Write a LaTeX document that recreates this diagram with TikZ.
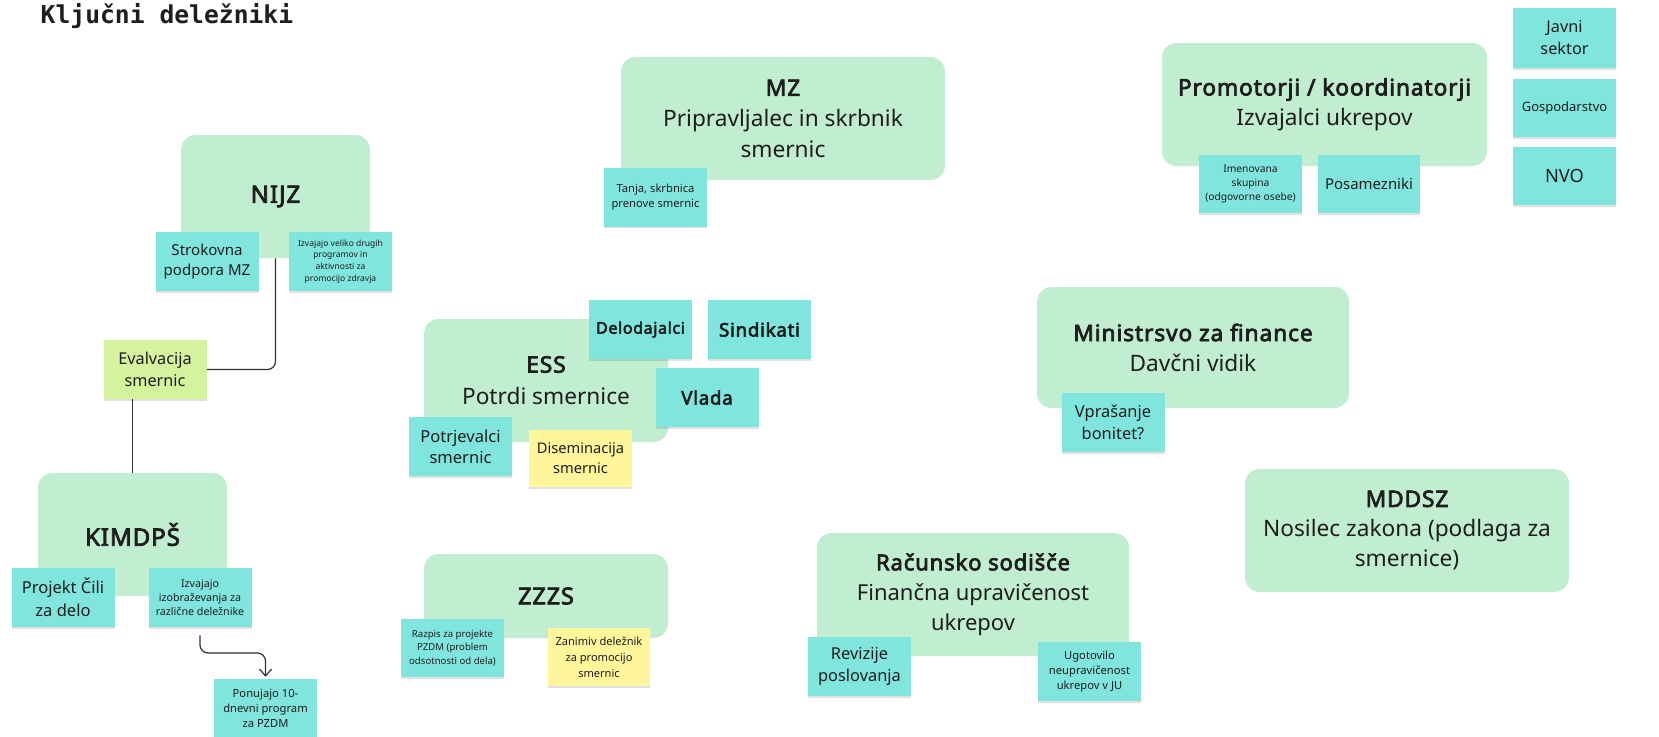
\documentclass[tikz,border=0pt]{standalone}
\usepackage{fontspec}
\setmainfont{Noto Sans}
\newfontfamily\boldsans{Noto Sans}[FakeBold=3.2, LetterSpace=4]
\newfontfamily\titlefont{DejaVu Sans Mono}
\usetikzlibrary{arrows.meta,calc,shadows}
\definecolor{grpgreen}{RGB}{193,238,208}
\definecolor{noteteal}{RGB}{128,229,221}
\definecolor{notelime}{RGB}{213,242,157}
\definecolor{noteyellow}{RGB}{255,246,156}
\definecolor{txt}{RGB}{30,30,30}
\definecolor{linegray}{RGB}{50,50,50}
\newcommand{\fsz}[2]{\fontsize{#1}{#2}\selectfont}
\newcommand{\hd}[1]{{\boldsans #1}}
\begin{document}
\begin{tikzpicture}[x=0.75pt, y=-0.75pt,
    sz/.style 2 args={minimum width=#1*0.75pt, minimum height=#2*0.75pt},
    orgbox/.style={fill=grpgreen, rounded corners=11pt, align=center, text=txt, inner sep=0pt},
    sticky/.style={fill=noteteal, align=center, text=txt, inner sep=0pt, sz={103}{59},
        drop shadow={shadow xshift=0pt, shadow yshift=-1.2pt, opacity=0.12, fill=black}},
    conn/.style={draw=linegray, line width=0.9pt}]
\path[use as bounding box, fill=white] (0,0) rectangle (1659,736);
\node[anchor=base west, text=txt, font=\titlefont\bfseries\fsz{18.5}{22}] (title) at (36,23.5) {Ključni deležniki};

\node[orgbox, sz={189}{123}, font=\fsz{18}{24}] (nijz) at (275.5,196.5) {\hd{NIJZ}};
\node[orgbox, sz={189}{123}, font=\fsz{18}{24}] (kimdps) at (132.5,534.5) {\hd{KIMDPŠ}};
\node[orgbox, sz={324}{123}, font=\fsz{17}{23}] (mz) at (783,118.5) {\hd{MZ}\\Pripravljalec in skrbnik\\smernic};
\node[orgbox, sz={244}{123}, font=\fsz{17}{24}] (ess) at (546,380.5) {\hd{ESS}\\Potrdi smernice};
\node[orgbox, sz={244}{84}, font=\fsz{17.5}{24}] (zzzs) at (546,596) {\hd{ZZZS}};
\node[orgbox, sz={312}{123}, font=\fsz{16.5}{22.5}] (racun) at (973,594.5) {\hd{Računsko sodišče}\\Finančna upravičenost\\ukrepov};
\node[orgbox, sz={312}{121}, font=\fsz{17}{22.5}] (minfin) at (1193,347.5) {\hd{Ministrsvo za finance}\\Davčni vidik};
\node[orgbox, sz={325}{123}, font=\fsz{17}{22.5}] (promo) at (1324.5,104.5) {\hd{Promotorji / koordinatorji}\\Izvajalci ukrepov};
\node[orgbox, sz={324}{123}, font=\fsz{17}{22.5}] (mddsz) at (1407,530.5) {\hd{MDDSZ}\\Nosilec zakona (podlaga za\\smernice)};

\node[sticky, font=\fsz{11.3}{15}] (strok) at (207,261.5) {Strokovna\\podpora MZ};
\node[sticky, font=\fsz{6.4}{8.8}] (izvvel) at (340.5,261.5) {Izvajajo veliko drugih\\programov in\\aktivnosti za\\promocijo zdravja};
\node[sticky, fill=notelime, font=\fsz{12.2}{17}] (eval) at (155,369.5) {Evalvacija\\smernic};
\node[sticky, font=\fsz{12.4}{17.3}] (cili) at (63,597.5) {Projekt Čili\\za delo};
\node[sticky, font=\fsz{8}{10.5}] (izob) at (200,597.5) {Izvajajo\\izobraževanja za\\različne deležnike};
\node[sticky, font=\fsz{8.4}{11.3}] (ponu) at (265.5,708.5) {Ponujajo 10-\\dnevni program\\za PZDM};
\node[sticky, font=\fsz{8.4}{11.5}] (tanja) at (655.5,197) {Tanja, skrbnica\\prenove smernic};
\node[sticky, font=\fsz{12}{16}] (delo) at (640.5,329.5) {\hd{Delodajalci}};
\node[sticky, font=\fsz{14}{18}] (sind) at (759.5,329.5) {\hd{Sindikati}};
\node[sticky, font=\fsz{14}{18}] (vlada) at (707,397.5) {\hd{Vlada}};
\node[sticky, font=\fsz{12.4}{15.8}] (potrj) at (460.5,446.5) {Potrjevalci\\smernic};
\node[sticky, fill=noteyellow, sz={103}{57}, font=\fsz{11}{15}] (disem) at (580.5,458.5) {Diseminacija\\smernic};
\node[sticky, sz={103}{58}, font=\fsz{7.2}{10}] (razpis) at (452.5,648) {Razpis za projekte\\PZDM (problem\\odsotnosti od dela)};
\node[sticky, fill=noteyellow, sz={102}{58}, font=\fsz{8.3}{12}] (zanim) at (599,657) {Zanimiv deležnik\\za promocijo\\smernic};
\node[sticky, font=\fsz{12.3}{16.5}] (reviz) at (859.5,666.5) {Revizije\\poslovanja};
\node[sticky, font=\fsz{8.4}{11.3}] (ugot) at (1089.5,671.5) {Ugotovilo\\neupravičenost\\ukrepov v JU};
\node[sticky, font=\fsz{12.3}{16.5}] (vpras) at (1113,422.5) {Vprašanje\\bonitet?};
\node[sticky, sz={103}{58}, font=\fsz{7.7}{10.7}] (imen) at (1250.5,184) {Imenovana\\skupina\\(odgovorne osebe)};
\node[sticky, sz={102}{58}, font=\fsz{11.2}{15}] (posam) at (1369,184) {Posamezniki};
\node[sticky, sz={103}{60}, font=\fsz{12.2}{16.5}] (javni) at (1564.5,38) {Javni\\sektor};
\node[sticky, sz={103}{58}, font=\fsz{9.75}{13}] (gosp) at (1564.5,108) {Gospodarstvo};
\node[sticky, sz={103}{58}, font=\fsz{13.7}{18}] (nvo) at (1564.5,176) {NVO};

\draw[conn, rounded corners=6pt] (nijz.south) |- (eval.east);
\draw[conn] (kimdps.north) -- (kimdps.north |- eval.south);
\draw[conn, -{Straight Barb[length=5pt, width=9pt]}, rounded corners=6pt, shorten <=6pt, shorten >=1.5pt]
    (izob.south) |- ($(izob.south)!.5!(ponu.north)$) -| (ponu.north);
\end{tikzpicture}
\end{document}
